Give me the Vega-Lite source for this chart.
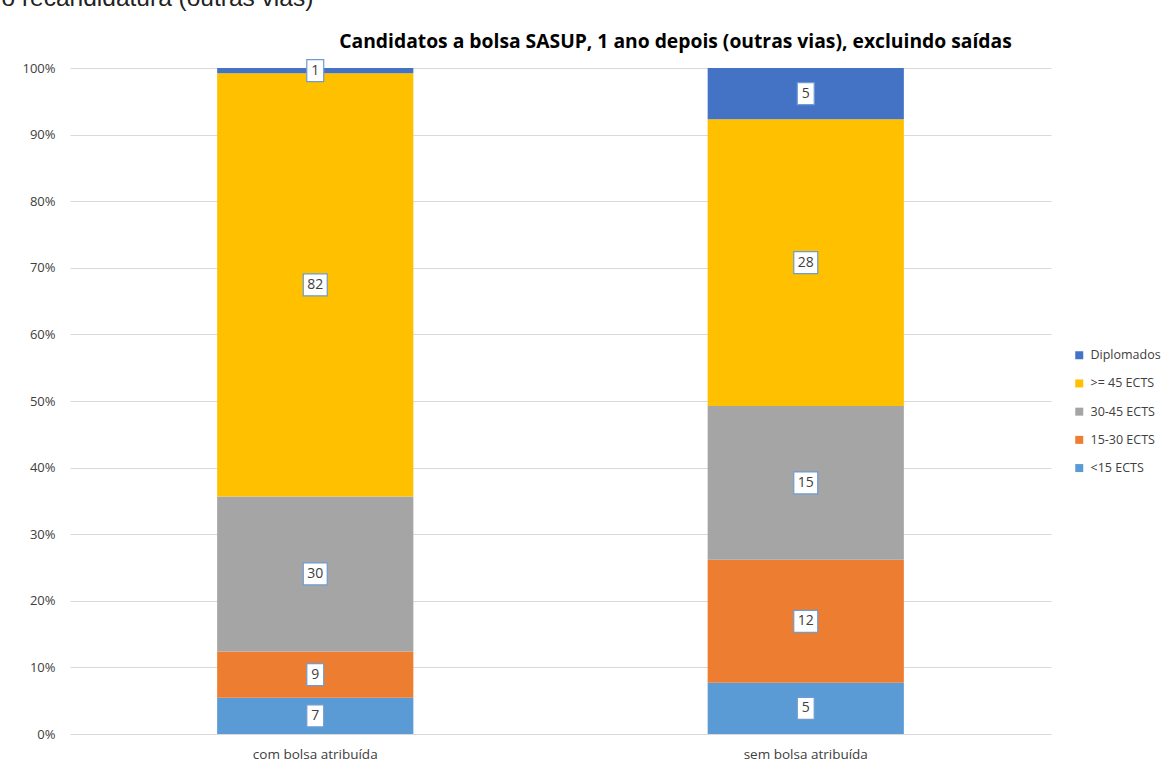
{
  "$schema": "https://vega.github.io/schema/vega-lite/v6.json",
  "autosize": {"type": "none"},
  "padding": {"left": 70, "top": 68, "right": 121, "bottom": 33},
  "width": 981,
  "height": 666,
  "background": "white",
  "config": {
    "font": "Open Sans",
    "view": {"stroke": null}
  },
  "data": {
    "values": [
      {"cat": "com bolsa atribuída", "faixa": "<15 ECTS", "ord": 1, "n": 7},
      {"cat": "com bolsa atribuída", "faixa": "15-30 ECTS", "ord": 2, "n": 9},
      {"cat": "com bolsa atribuída", "faixa": "30-45 ECTS", "ord": 3, "n": 30},
      {"cat": "com bolsa atribuída", "faixa": ">= 45 ECTS", "ord": 4, "n": 82},
      {"cat": "com bolsa atribuída", "faixa": "Diplomados", "ord": 5, "n": 1},
      {"cat": "sem bolsa atribuída", "faixa": "<15 ECTS", "ord": 1, "n": 5},
      {"cat": "sem bolsa atribuída", "faixa": "15-30 ECTS", "ord": 2, "n": 12},
      {"cat": "sem bolsa atribuída", "faixa": "30-45 ECTS", "ord": 3, "n": 15},
      {"cat": "sem bolsa atribuída", "faixa": ">= 45 ECTS", "ord": 4, "n": 28},
      {"cat": "sem bolsa atribuída", "faixa": "Diplomados", "ord": 5, "n": 5}
    ]
  },
  "transform": [
    {"stack": "n", "groupby": ["cat"], "sort": [{"field": "ord", "order": "ascending"}], "as": ["y0", "y1"], "offset": "normalize"},
    {"calculate": "(datum.y0 + datum.y1) / 2", "as": "mid"}
  ],
  "encoding": {
    "x": {
      "field": "cat",
      "type": "nominal",
      "sort": null,
      "title": "o recandidatura (outras vias)",
      "scale": {"paddingInner": 0.6, "paddingOuter": 0.3},
      "axis": {
        "labelAngle": 0,
        "domain": false,
        "ticks": false,
        "labelPadding": 13,
        "labelFont": "Open Sans",
        "labelFontSize": 13.5,
        "labelColor": "#404040",
        "titleX": -69,
        "titleY": -728.5,
        "titleAlign": "left",
        "titleAnchor": "start",
        "titleBaseline": "alphabetic",
        "titleFont": "Liberation Sans",
        "titleFontSize": 24.5,
        "titleFontWeight": "normal",
        "titleColor": "#222222"
      }
    }
  },
  "layer": [
    {
      "mark": {"type": "bar"},
      "encoding": {
        "y": {
          "field": "y0",
          "type": "quantitative",
          "title": "Candidatos a bolsa SASUP, 1 ano depois (outras vias), excluindo saídas",
          "scale": {"domain": [0, 1], "nice": false},
          "axis": {
            "format": ".0%",
            "values": [0, 0.1, 0.2, 0.3, 0.4, 0.5, 0.6, 0.7, 0.8, 0.9, 1],
            "domain": false,
            "ticks": false,
            "gridColor": "#D9D9D9",
            "gridWidth": 1,
            "labelPadding": 15,
            "labelFont": "Open Sans",
            "labelFontSize": 13,
            "labelColor": "#404040",
            "titleAngle": 0,
            "titleX": 605,
            "titleY": -21,
            "titleAlign": "center",
            "titleBaseline": "alphabetic",
            "titleFont": "Open Sans",
            "titleFontSize": 19.3,
            "titleFontWeight": "bold",
            "titleColor": "#000000"
          }
        },
        "y2": {"field": "y1"},
        "color": {
          "field": "faixa",
          "type": "nominal",
          "scale": {
            "domain": ["Diplomados", ">= 45 ECTS", "30-45 ECTS", "15-30 ECTS", "<15 ECTS"],
            "range": ["#4472C4", "#FFC000", "#A5A5A5", "#ED7D31", "#5B9BD5"]
          },
          "legend": {
            "title": null,
            "orient": "none",
            "legendX": 1003,
            "legendY": 281,
            "symbolType": "square",
            "symbolSize": 64,
            "symbolStrokeWidth": 0,
            "labelFont": "Open Sans",
            "labelFontSize": 12.5,
            "labelColor": "#404040",
            "labelOffset": 5,
            "rowPadding": 15.2
          }
        }
      }
    },
    {
      "mark": {"type": "point", "filled": true, "fill": "white", "stroke": "#6E9BD1", "strokeWidth": 1.2, "opacity": 1, "size": 484},
      "encoding": {
        "y": {"field": "mid", "type": "quantitative"},
        "shape": {
          "condition": {"test": "datum.n >= 10", "value": "M-1.09,-1H1.09V1H-1.09Z"},
          "value": "M-0.77,-1H0.77V1H-0.77Z"
        }
      }
    },
    {
      "mark": {"type": "text", "font": "Open Sans", "fontSize": 14, "color": "#404040", "baseline": "middle"},
      "encoding": {
        "y": {"field": "mid", "type": "quantitative"},
        "text": {"field": "n", "type": "quantitative"}
      }
    }
  ]
}
